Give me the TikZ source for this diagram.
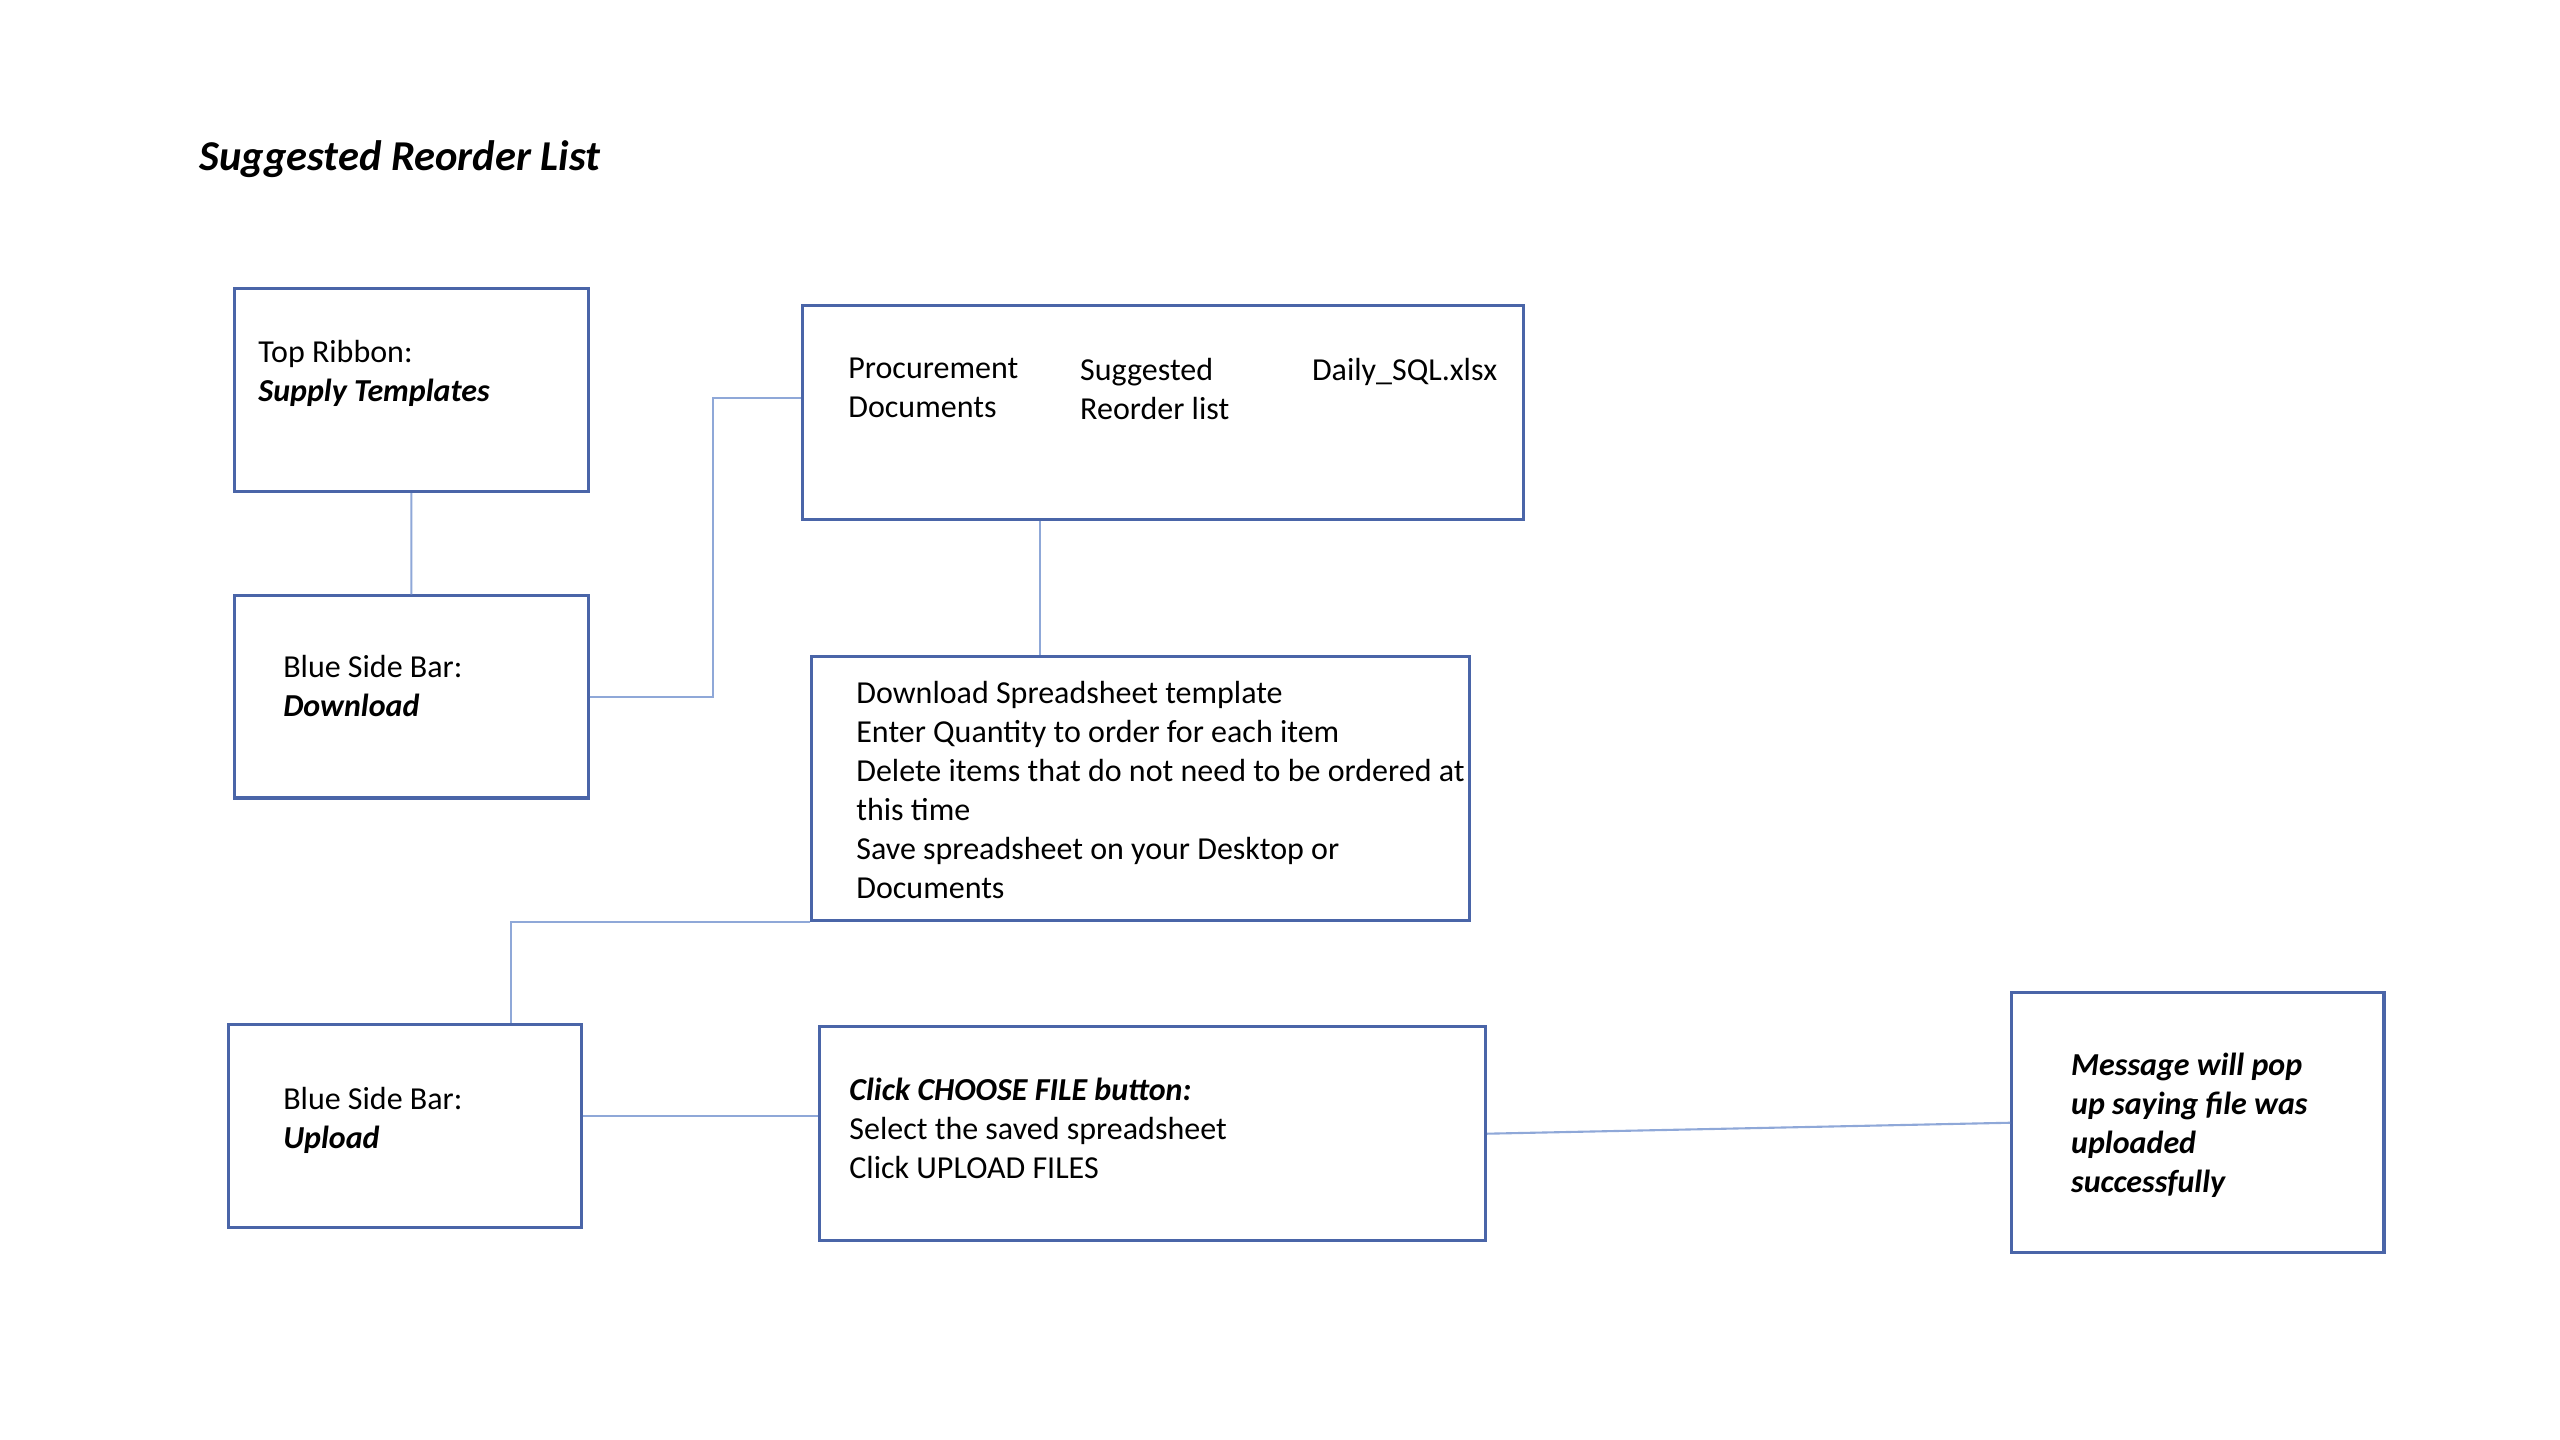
\documentclass[tikz,border=0pt]{standalone}
\usepackage{fontspec}
\setmainfont{Carlito}
\usetikzlibrary{positioning}
\definecolor{boxblue}{HTML}{4A65A8}
\definecolor{linkblue}{HTML}{8FA8D8}

\begin{document}
\begin{tikzpicture}
	[
		scale=0.995,
		x=0.01cm, y=-0.01cm,
		B/.style = {rectangle, draw=boxblue, line width=0.9pt, fill=none, inner sep=0pt},
		T/.style = {anchor=north west, align=left, inner sep=0pt, font=\fontsize{9.1}{11.1}\selectfont},
		L/.style = {draw=linkblue, line width=0.6pt},
	]

	\useasboundingbox (0,0) rectangle (2573,1447);

	% title
	\node[T, font=\fontsize{12.1}{15}\selectfont] (title) at (200,141) {\textbf{\textit{Suggested Reorder List}}};

	% boxes
	\node[B, minimum width=3.532cm, minimum height=2.030cm] (tr) at ( 413.5, 392.0) {};
	\node[B, minimum width=3.532cm, minimum height=2.020cm] (dl) at ( 413.5, 700.5) {};
	\node[B, minimum width=7.204cm, minimum height=2.139cm] (pd) at (1169.0, 414.5) {};
	\node[B, minimum width=6.577cm, minimum height=2.637cm] (ss) at (1146.5, 792.5) {};
	\node[B, minimum width=3.522cm, minimum height=2.030cm] (up) at ( 407.0,1132.0) {};
	\node[B, minimum width=6.657cm, minimum height=2.139cm] (ch) at (1158.5,1139.5) {};
	\node[B, minimum width=3.721cm, minimum height=2.597cm] (msg) at (2209.0,1128.5) {};

	% box texts
	\node[T] (trt) at ( 259, 341) {Top Ribbon:\\\textbf{\textit{Supply Templates}}};
	\node[T] (dlt) at ( 284, 658) {Blue Side Bar:\\\textbf{\textit{Download}}};
	\node[T] (pd1) at ( 852, 359) {Procurement\\Documents};
	\node[T] (pd2) at (1085, 359) {Suggested\\Reorder list};
	\node[T] (pd3) at (1318, 359) {Daily\_SQL.xlsx};
	\node[T] (sst) at ( 860, 684) {Download Spreadsheet template\\Enter Quantity to order for each item\\Delete items that do not need to be ordered at\\this time\\Save spreadsheet on your Desktop or\\Documents};
	\node[T] (upt) at ( 284,1092) {Blue Side Bar:\\\textbf{\textit{Upload}}};
	\node[T] (cht) at ( 853,1083) {\textbf{\textit{Click CHOOSE FILE button:}}\\Select the saved spreadsheet\\Click UPLOAD FILES};
	\node[T] (msgt) at (2081,1058) {\textbf{\textit{Message will pop}}\\\textbf{\textit{up saying file was}}\\\textbf{\textit{uploaded}}\\\textbf{\textit{successfully}}};

	% connectors
	\coordinate (x1) at (1045,0);
	\coordinate (x2) at ( 514,0);
	\draw[L] (tr) -- (dl);
	\draw[L] (dl.east) -- ++(124,0) |- ([yshift=0.145cm]pd.west);
	\draw[L] (pd.south -| x1) -- (ss.north -| x1);
	\draw[L] (ss.south west) -| (up.north -| x2);
	\draw[L] ([yshift=0.1cm]up.east) -- ([yshift=0.1cm]up.east -| ch.west);
	\draw[L] (ch.east) -- (msg.west);

\end{tikzpicture}
\end{document}
